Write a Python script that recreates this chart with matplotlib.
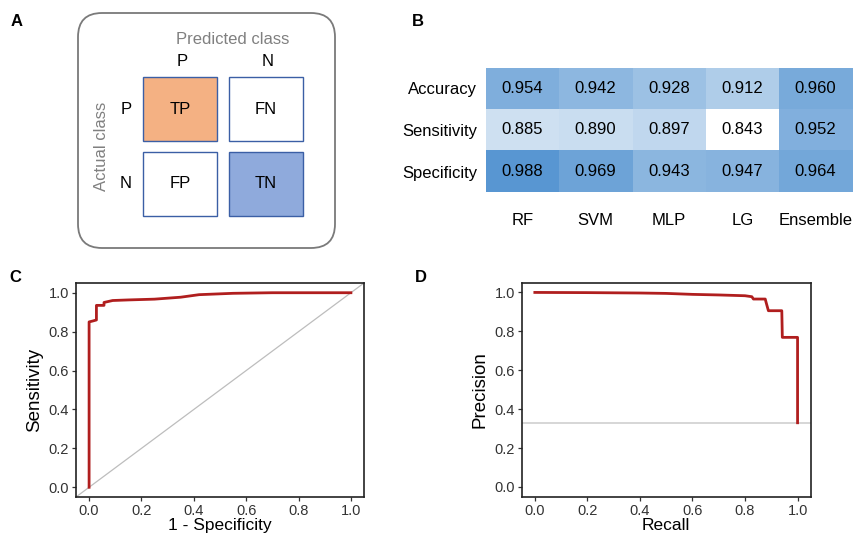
import matplotlib
matplotlib.use("Agg")
import matplotlib.pyplot as plt
import numpy as np
from matplotlib.patches import FancyBboxPatch, Rectangle
from matplotlib.colors import LinearSegmentedColormap

plt.rcParams['font.family'] = ['Liberation Sans', 'DejaVu Sans']

# ---------------- data ----------------
cm_labels = [["TP", "FN"], ["FP", "TN"]]
cm_colors = [["#F4B183", "#FFFFFF"], ["#FFFFFF", "#8FAADC"]]
class_names = ["P", "N"]

models = ["RF", "SVM", "MLP", "LG", "Ensemble"]
metrics = ["Accuracy", "Sensitivity", "Specificity"]
accuracy = [0.954, 0.942, 0.928, 0.912, 0.960]
sensitivity = [0.885, 0.890, 0.897, 0.843, 0.952]
specificity = [0.988, 0.969, 0.943, 0.947, 0.964]

roc_fpr = [0, 0, 0.015, 0.028, 0.028, 0.057, 0.057, 0.09, 0.15, 0.25, 0.35, 0.42, 0.55, 0.7, 1.0]
roc_tpr = [0, 0.85, 0.855, 0.86, 0.935, 0.935, 0.95, 0.96, 0.963, 0.967, 0.977, 0.99, 0.997, 1.0, 1.0]

pr_recall = [0, 0.2, 0.4, 0.5, 0.6, 0.7, 0.8, 0.826, 0.832, 0.877, 0.88, 0.889, 0.94, 0.942, 1.0, 1.0]
pr_precision = [1.0, 0.999, 0.997, 0.995, 0.99, 0.987, 0.983, 0.978, 0.966, 0.966, 0.95, 0.906, 0.906, 0.769, 0.769, 0.33]
pr_baseline = 0.33

# ---------------- layout ----------------
W, H = 857, 534
fig = plt.figure(figsize=(W / 100, H / 100), dpi=100)


def rect(l, t, r, b):
    return [l / W, 1 - b / H, (r - l) / W, (b - t) / H]


# ---------------- panel A ----------------
axA = fig.add_axes(rect(0, 0, 360, 255))
axA.set_xlim(0, 360)
axA.set_ylim(255, 0)
axA.axis('off')
axA.add_patch(FancyBboxPatch((78, 13), 257, 235, boxstyle="round,pad=0,rounding_size=24",
                             fc='white', ec='#7a7a7a', lw=1.3))
col_x = [143, 229]
row_y = [77, 152]
cw, ch = 74, 64
for i in range(2):
    for j in range(2):
        axA.add_patch(Rectangle((col_x[j], row_y[i]), cw, ch, fc=cm_colors[i][j],
                                ec='#3B5FA5', lw=1.0))
        axA.text(col_x[j] + cw / 2, row_y[i] + ch / 2, cm_labels[i][j], ha='center',
                 va='center', fontsize=12, color='black')
for j in range(2):
    axA.text(col_x[j] + cw / 2 + 2, 61, class_names[j], ha='center', va='center', fontsize=12)
for i in range(2):
    axA.text(126, row_y[i] + ch / 2, class_names[i], ha='center', va='center', fontsize=12)
axA.text(233, 39, "Predicted class", ha='center', va='center', fontsize=12, color='#808080')
axA.text(102, 146, "Actual class", ha='center', va='center', fontsize=12, color='#808080',
         rotation=90)

# ---------------- panel B ----------------
axB = fig.add_axes(rect(485.7, 67.7, 852.3, 192.3))
vals = np.array([accuracy, sensitivity, specificity])
cmap = LinearSegmentedColormap.from_list("wb", ["#FFFFFF", "#5896D2"])
axB.imshow(vals, cmap=cmap, vmin=min(sensitivity), vmax=max(specificity), aspect='auto')
for i in range(vals.shape[0]):
    for j in range(vals.shape[1]):
        axB.text(j, i, f"{vals[i, j]:.3f}", ha='center', va='center', fontsize=12, color='black')
axB.set_xticks(range(len(models)))
axB.set_xticklabels(models, fontsize=12)
axB.set_yticks(range(len(metrics)))
axB.set_yticklabels(metrics, fontsize=12)
axB.tick_params(length=0)
axB.tick_params(axis='x', pad=15)
axB.tick_params(axis='y', pad=6)
for s in axB.spines.values():
    s.set_visible(False)

# ---------------- panels C, D ----------------
def style(ax):
    ax.set_xlim(-0.05, 1.05)
    ax.set_ylim(-0.05, 1.05)
    ticks = [0.0, 0.2, 0.4, 0.6, 0.8, 1.0]
    ax.set_xticks(ticks)
    ax.set_yticks(ticks)
    ax.set_xticklabels([f"{t:.1f}" for t in ticks])
    ax.set_yticklabels([f"{t:.1f}" for t in ticks])
    ax.tick_params(length=3, width=0.9, color='#333333', labelsize=10.5, labelcolor='#333333', pad=2)
    for s in ax.spines.values():
        s.set_color('#222222')
        s.set_linewidth(1.2)


axC = fig.add_axes(rect(76, 283, 364, 497))
style(axC)
axC.axline((0, 0), slope=1, color='#bdbdbd', lw=0.9, zorder=1)
axC.plot(roc_fpr, roc_tpr, color='#B01E1E', lw=2, zorder=3)
axC.set_xlabel("1 - Specificity", fontsize=12.5, labelpad=0)
axC.set_ylabel("Sensitivity", fontsize=13.5, labelpad=4)

axD = fig.add_axes(rect(521.7, 282.7, 810.7, 496.7))
style(axD)
axD.axhline(pr_baseline, color='#cfcfcf', lw=1.2, zorder=1)
axD.plot(pr_recall, pr_precision, color='#B01E1E', lw=2, zorder=3)
axD.set_xlabel("Recall", fontsize=12.5, labelpad=0)
axD.set_ylabel("Precision", fontsize=13.5, labelpad=4)

# ---------------- panel letters ----------------
for lab, x, y in [("A", 17, 22), ("B", 418, 22), ("C", 15, 278), ("D", 421, 278)]:
    fig.text(x / W, 1 - y / H, lab, fontsize=12, fontweight='bold', ha='center', va='center')

fig.savefig("out.png", dpi=100)
